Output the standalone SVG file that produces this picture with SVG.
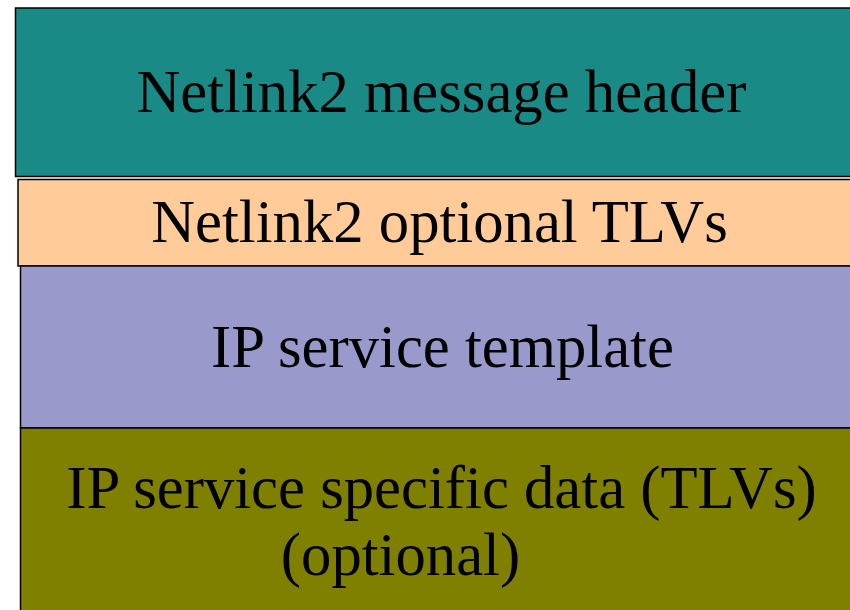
<svg xmlns="http://www.w3.org/2000/svg" width="850" height="610" viewBox="0 0 850 610">
  <style>
    .blk { stroke: #000; stroke-width: 1.5; }
    .lbl { font-family: "Liberation Serif", "Times New Roman", serif; font-size: 60.7px; fill: #000; }
  </style>
  <rect width="850" height="610" fill="#fff"/>
  <g id="msg-header">
    <rect class="blk" x="15.5" y="8" width="850" height="168.5" fill="#1a8a87"/>
    <text class="lbl" x="441.5" y="112" text-anchor="middle">Netlink2 message header</text>
  </g>
  <g id="optional-tlvs">
    <rect class="blk" x="18" y="179.5" width="850" height="86.5" fill="#ffcc99"/>
    <text class="lbl" x="439.5" y="242" text-anchor="middle">Netlink2 optional TLVs</text>
  </g>
  <g id="service-template">
    <rect class="blk" x="20.5" y="266" width="850" height="162" fill="#9999cc"/>
    <text class="lbl" x="442.5" y="367" text-anchor="middle">IP service template</text>
  </g>
  <g id="service-data">
    <rect class="blk" x="20.5" y="428" width="850" height="190" fill="#808000"/>
    <text class="lbl" x="441.5" y="508" text-anchor="middle">IP service specific data (TLVs)</text>
    <text class="lbl" x="400.5" y="575" text-anchor="middle">(optional)</text>
  </g>
</svg>
